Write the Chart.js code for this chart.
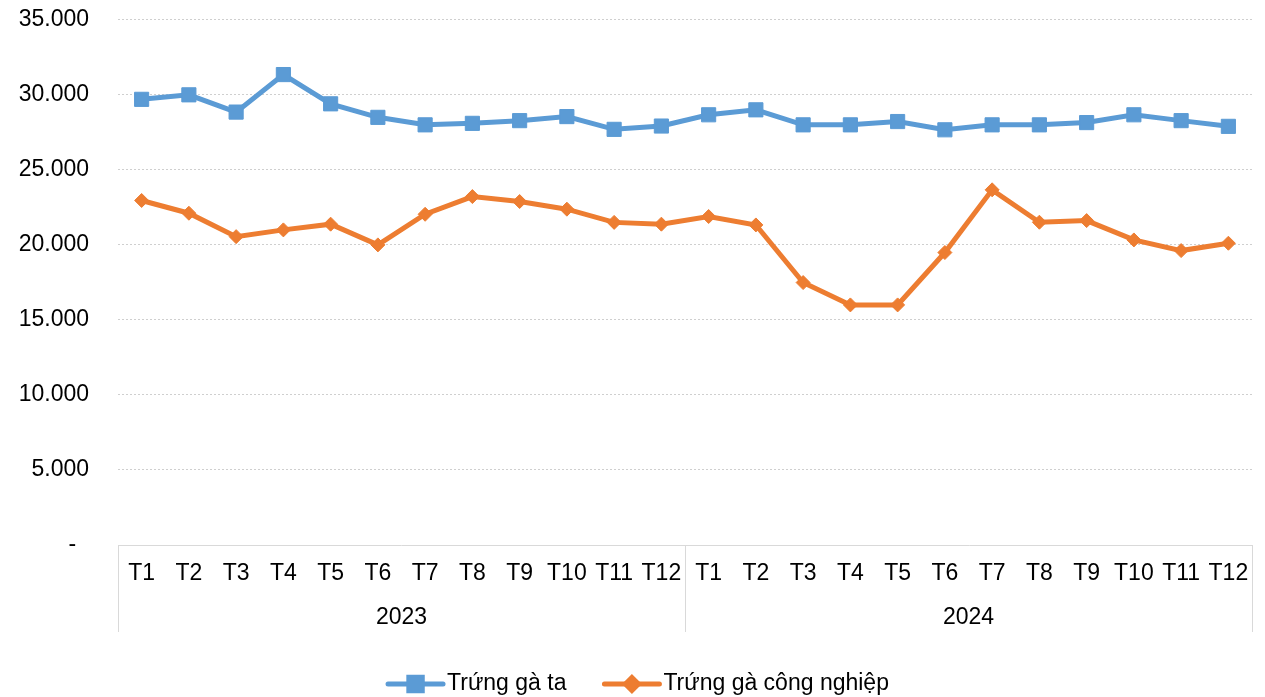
<!DOCTYPE html>
<html>
<head>
<meta charset="utf-8">
<script src="https://cdn.jsdelivr.net/npm/chart.js@4"></script>
<style>
html, body { margin: 0; padding: 0; background: #fff; }
#wrap { width: 1265px; height: 697px; }
</style>
</head>
<body>
<div id="wrap"><canvas id="eggChart"></canvas></div>
<script>
// --- DATA ---
const months = ['T1', 'T2', 'T3', 'T4', 'T5', 'T6', 'T7', 'T8', 'T9', 'T10', 'T11', 'T12',
                'T1', 'T2', 'T3', 'T4', 'T5', 'T6', 'T7', 'T8', 'T9', 'T10', 'T11', 'T12'];
const years = ['2023', '2024'];
const seriesNames = ['Trứng gà ta', 'Trứng gà công nghiệp'];
const gaTa = [29700, 30000, 28850, 31350, 29400, 28500, 28000, 28100, 28280, 28550, 27700, 27920,
              28670, 29000, 28000, 28000, 28220, 27670, 28000, 28000, 28150, 28670, 28280, 27900];
const gaCongNghiep = [22960, 22110, 20550, 21000, 21380, 20000, 22040, 23220, 22890, 22380, 21500, 21380,
                      21890, 21330, 17490, 16000, 16000, 19490, 23670, 21510, 21620, 20330, 19620, 20110];
const yTicks = [0, 5000, 10000, 15000, 20000, 25000, 30000, 35000];

const FONT = { family: 'Liberation Sans, Arial, sans-serif', size: 23 };
const BLUE = '#5B9BD5';
const ORANGE = '#ED7D31';
const AXIS_GREY = '#d9d9d9';

function fmt(v) {
    if (v === 0) return '-  ';
    return String(v).replace(/\B(?=(\d{3})+(?!\d))/g, '.');
}

// --- 2-level x axis: separators + year labels ---
const yearGroups = {
    id: 'yearGroups',
    afterDraw(chart) {
        const { ctx, chartArea, scales: { x } } = chart;
        const per = months.length / years.length;
        const lineBottom = chartArea.bottom + 87;
        const edges = [chartArea.left];
        for (let g = 1; g < years.length; g++) {
            edges.push((x.getPixelForValue(g * per - 1) + x.getPixelForValue(g * per)) / 2);
        }
        edges.push(chartArea.right);

        ctx.save();
        ctx.strokeStyle = AXIS_GREY;
        ctx.lineWidth = 1;
        edges.forEach(e => {
            const px = Math.round(e) + 0.5;
            ctx.beginPath();
            ctx.moveTo(px, chartArea.bottom);
            ctx.lineTo(px, lineBottom);
            ctx.stroke();
        });
        ctx.fillStyle = '#000';
        ctx.font = FONT.size + 'px ' + FONT.family;
        ctx.textAlign = 'center';
        ctx.textBaseline = 'middle';
        years.forEach((yr, g) => {
            ctx.fillText(yr, (edges[g] + edges[g + 1]) / 2, chartArea.bottom + 73);
        });
        ctx.restore();
    }
};

// --- legend: line with marker in the middle ---
const lineLegend = {
    id: 'lineLegend',
    afterDraw(chart) {
        const { ctx, width } = chart;
        const lineW = 55, gap = 4, itemGap = 38, cy = 684;
        ctx.save();
        ctx.font = FONT.size + 'px ' + FONT.family;
        const items = chart.data.datasets.map(ds => ({ ds, tw: ctx.measureText(ds.label).width }));
        const total = items.reduce((s, it) => s + lineW + gap + it.tw, 0) + itemGap * (items.length - 1);
        let x = (width - total) / 2 + 6;
        items.forEach(it => {
            const ds = it.ds;
            ctx.strokeStyle = ds.borderColor;
            ctx.lineWidth = ds.borderWidth;
            ctx.lineCap = 'round';
            ctx.beginPath();
            ctx.moveTo(x, cy);
            ctx.lineTo(x + lineW, cy);
            ctx.stroke();
            Chart.helpers.drawPoint(ctx, {
                pointStyle: ds.pointStyle, radius: ds.pointRadius - 0.5, borderWidth: 1, rotation: 0
            }, x + lineW / 2, cy);
            ctx.fillStyle = ds.borderColor;
            ctx.fill();
            ctx.fillStyle = '#000';
            ctx.textAlign = 'left';
            ctx.textBaseline = 'middle';
            ctx.fillText(ds.label, x + lineW + gap, cy);
            x += lineW + gap + it.tw + itemGap;
        });
        ctx.restore();
    }
};

new Chart(document.getElementById('eggChart'), {
    type: 'line',
    data: {
        labels: months,
        datasets: [
            {
                label: seriesNames[0], data: gaTa,
                borderColor: BLUE, backgroundColor: BLUE, borderWidth: 5,
                pointStyle: 'rect', pointRadius: 10, pointBorderWidth: 1,
                pointBackgroundColor: BLUE, pointBorderColor: BLUE, tension: 0
            },
            {
                label: seriesNames[1], data: gaCongNghiep,
                borderColor: ORANGE, backgroundColor: ORANGE, borderWidth: 5,
                pointStyle: 'rectRot', pointRadius: 7, pointBorderWidth: 1,
                pointBackgroundColor: ORANGE, pointBorderColor: ORANGE, tension: 0
            }
        ]
    },
    options: {
        responsive: true,
        maintainAspectRatio: false,
        animation: false,
        layout: { padding: { top: 1, right: 13, left: 0, bottom: 0 } },
        plugins: { legend: { display: false }, tooltip: { enabled: false } },
        scales: {
            x: {
                offset: true,
                grid: { display: false, drawTicks: false, offset: true },
                border: { display: true, color: AXIS_GREY, width: 1 },
                ticks: { color: '#000', font: FONT, padding: 15, maxRotation: 0, autoSkip: false },
                afterFit(scale) { scale.height = 152; }
            },
            y: {
                min: 0, max: 35000,
                afterBuildTicks(scale) { scale.ticks = yTicks.map(v => ({ value: v })); },
                grid: {
                    color: ctx => ctx.tick && ctx.tick.value === 0 ? 'rgba(0,0,0,0)' : '#cfcfcf',
                    lineWidth: 1, drawTicks: true, tickLength: 23, tickColor: 'rgba(0,0,0,0)'
                },
                border: { display: false, dash: [2, 2] },
                ticks: { color: '#000', font: FONT, padding: 6, callback: v => fmt(v) },
                afterFit(scale) { scale.width = 118; }
            }
        }
    },
    plugins: [yearGroups, lineLegend]
});
</script>
</body>
</html>
